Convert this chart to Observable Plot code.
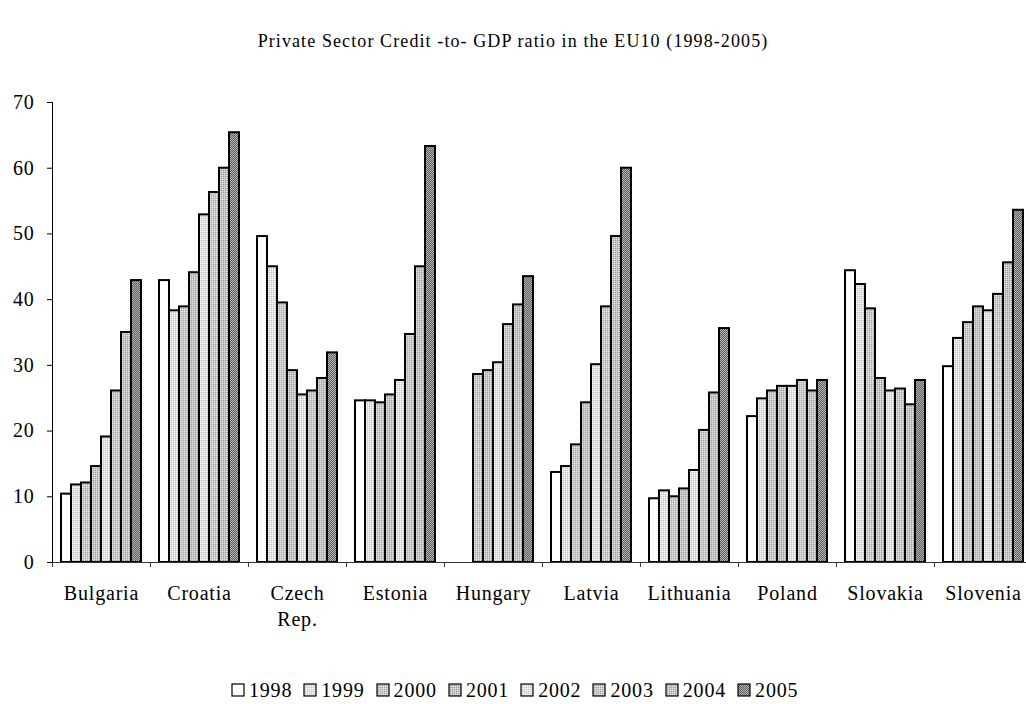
<!DOCTYPE html>
<html>
<head>
<meta charset="utf-8">
<script src="https://cdn.jsdelivr.net/npm/d3@7"></script>
<script src="https://cdn.jsdelivr.net/npm/@observablehq/plot@0.6"></script>
<style>
html, body { margin: 0; padding: 0; background: #fff; overflow: hidden; }
body { width: 1026px; height: 704px; font-family: "Liberation Serif", "Times New Roman", serif; color: #000; position: relative; }
#title { height: 60px; box-sizing: border-box; padding-top: 31px; text-align: center; font-size: 18px; line-height: 20px; letter-spacing: 1.1px; }
#chart svg { display: block; overflow: visible; }
#chart svg text { letter-spacing: 0.8px; fill: #000; }
#legend { position: absolute; left: 231px; top: 680px; display: flex; font-size: 20px; line-height: 20px; letter-spacing: 0.8px; }
#legend .item { width: 72.3px; display: flex; align-items: center; }
#legend svg { margin-right: 4px; }
</style>
</head>
<body>
<svg width="0" height="0" style="position:absolute">
  <defs>
    <pattern id="pLight" width="2" height="2" patternUnits="userSpaceOnUse">
      <rect width="2" height="2" fill="#e6e6e6"/>
      <rect x="0" y="0" width="1" height="1" fill="#c2c2c2"/>
      <rect x="1" y="1" width="1" height="1" fill="#f6f6f6"/>
    </pattern>
    <pattern id="pMed" width="2" height="2" patternUnits="userSpaceOnUse">
      <rect width="2" height="2" fill="#cacaca"/>
      <rect x="0" y="0" width="1" height="1" fill="#a6a6a6"/>
      <rect x="1" y="1" width="1" height="1" fill="#e8e8e8"/>
    </pattern>
    <pattern id="pMed2" width="2" height="2" patternUnits="userSpaceOnUse">
      <rect width="2" height="2" fill="#c6c6c6"/>
      <rect x="0" y="0" width="1" height="1" fill="#9e9e9e"/>
      <rect x="1" y="1" width="1" height="1" fill="#e2e2e2"/>
    </pattern>
    <pattern id="pDark" width="2" height="2" patternUnits="userSpaceOnUse">
      <rect width="2" height="2" fill="#b4b4b4"/>
      <rect x="0" y="0" width="1" height="1" fill="#5e5e5e"/>
      <rect x="1" y="1" width="1" height="1" fill="#5e5e5e"/>
    </pattern>
  </defs>
</svg>
<div id="title">Private Sector Credit -to- GDP ratio in the EU10 (1998-2005)</div>
<div id="chart"></div>
<div id="legend"></div>
<script>
// ---- data ----
const countries = ["Bulgaria", "Croatia", "Czech Rep.", "Estonia", "Hungary", "Latvia", "Lithuania", "Poland", "Slovakia", "Slovenia"];
const years = ["1998", "1999", "2000", "2001", "2002", "2003", "2004", "2005"];
const bulgaria  = [10.4, 11.8, 12.1, 14.6, 19.1, 26.1, 35.0, 42.9];
const croatia   = [42.9, 38.3, 38.9, 44.1, 52.9, 56.3, 60.0, 65.4];
const czechRep  = [49.6, 45.0, 39.5, 29.2, 25.5, 26.1, 28.0, 31.9];
const estonia   = [24.6, 24.6, 24.3, 25.5, 27.7, 34.7, 45.0, 63.3];
const hungary   = [null, null, 28.6, 29.2, 30.4, 36.2, 39.2, 43.5];
const latvia    = [13.7, 14.6, 17.9, 24.3, 30.1, 38.9, 49.6, 60.0];
const lithuania = [9.7, 10.9, 10.0, 11.2, 14.0, 20.1, 25.8, 35.6];
const poland    = [22.2, 24.9, 26.1, 26.8, 26.8, 27.7, 26.1, 27.7];
const slovakia  = [44.4, 42.3, 38.6, 28.0, 26.1, 26.4, 24.0, 27.7];
const slovenia  = [29.8, 34.1, 36.5, 38.9, 38.3, 40.8, 45.6, 53.6];
const yTicks = [0, 10, 20, 30, 40, 50, 60, 70];

// ---- styles ----
const fills = ["#ffffff", "url(#pLight)", "url(#pMed)", "url(#pMed2)", "url(#pLight)", "url(#pMed)", "url(#pMed2)", "url(#pDark)"];

const series = [bulgaria, croatia, czechRep, estonia, hungary, latvia, lithuania, poland, slovakia, slovenia];
const rows = countries.flatMap((c, i) => series[i].map((v, j) => ({country: c, year: years[j], value: v})))
  .filter(d => d.value != null);

const fxRange = [51, 1032];
const step = (fxRange[1] - fxRange[0]) / countries.length;

const chart = Plot.plot({
  width: 1026,
  height: 580,
  marginTop: 42,
  marginBottom: 78,
  marginLeft: 51,
  marginRight: 0,
  style: {fontFamily: "'Liberation Serif', 'Times New Roman', serif", fontSize: "20px", color: "#000", background: "transparent"},
  fx: {domain: countries, range: fxRange, padding: 0, label: null},
  x: {domain: years, paddingInner: 0, paddingOuter: 0.762, axis: null},
  y: {domain: [0, 70], ticks: yTicks, tickSize: 5, tickPadding: 13, label: null, line: true},
  color: {domain: years, range: fills},
  marks: [
    Plot.barY(rows, {fx: "country", x: "year", y: "value", fill: "year", stroke: "#000", strokeWidth: 2}),
    Plot.ruleY([0], {stroke: "#333", strokeWidth: 1}),
    Plot.axisFx({anchor: "bottom", tickSize: 0, tickPadding: 19, label: null, lineHeight: 1.3,
      tickFormat: d => d.replace(" ", "\n")}),
    Plot.axisFx({anchor: "bottom", tickSize: 5, label: null, stroke: "#333", dx: -step / 2,
      tickFormat: () => ""})
  ]
});
document.getElementById("chart").appendChild(chart);

// ---- legend ----
const legend = d3.select("#legend");
years.forEach((y, i) => {
  const item = legend.append("div").attr("class", "item");
  const sw = item.append("svg").attr("width", 14).attr("height", 14);
  sw.append("rect").attr("x", 1).attr("y", 1).attr("width", 12).attr("height", 12)
    .attr("fill", fills[i]).attr("stroke", "#000").attr("stroke-width", 1.2);
  item.append("span").text(y);
});
</script>
</body>
</html>
